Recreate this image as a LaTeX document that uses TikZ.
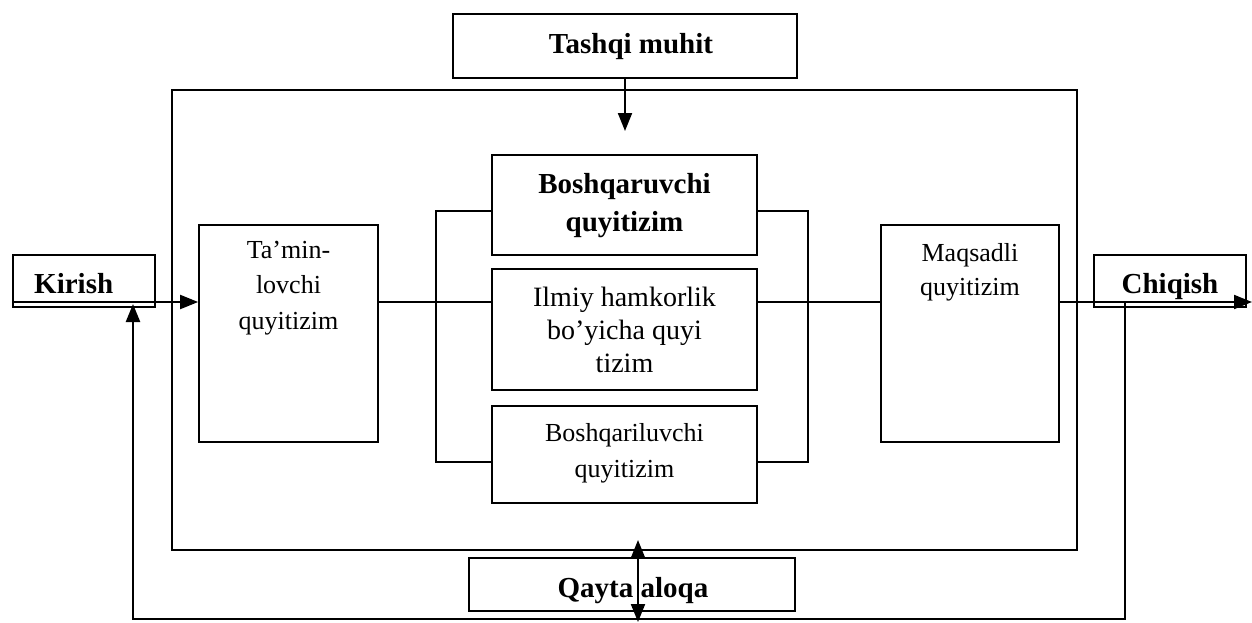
\documentclass[tikz,border=0pt]{standalone}
\usepackage{fontspec}
\setmainfont{Liberation Serif}
\usetikzlibrary{arrows.meta}
\begin{document}
\begin{tikzpicture}[x=1pt,y=-1pt,
  >={Triangle[length=18pt,width=14pt]},
  box/.style={draw, line width=1.7pt, inner sep=0pt},
  lbl/.style={inner sep=0pt, align=center},
  bold/.style={font=\fontsize{29}{38}\selectfont\bfseries},
  link/.style={line width=1.7pt},
  flow/.style={line width=2pt, ->},
  loop/.style={line width=2.4pt},
]
\useasboundingbox (0,0) rectangle (1252,622);

% boxes
\node[box, minimum width=344, minimum height=64] (tashqi) at (625,46) {};
\node[box, minimum width=905, minimum height=460] (outer) at (624.5,320) {};
\node[box, minimum width=142, minimum height=52] (kirish) at (84,281) {};
\node[box, minimum width=152, minimum height=52] (chiqish) at (1170,281) {};
\node[box, minimum width=179, minimum height=217] (tam) at (288.5,333.5) {};
\node[box, minimum width=178, minimum height=217] (maq) at (970,333.5) {};
\node[box, minimum width=265, minimum height=100] (bqr) at (624.5,205) {};
\node[box, minimum width=265, minimum height=121] (ilm) at (624.5,329.5) {};
\node[box, minimum width=265, minimum height=97] (bql) at (624.5,454.5) {};
\node[box, minimum width=326, minimum height=53] (qayta) at (632,584.5) {};

% texts
\node[lbl, bold, anchor=base] (tashqiT) at (631,53) {Tashqi muhit};
\node[lbl, bold, anchor=base west] (kirishT) at (34,293) {Kirish};
\node[lbl, bold, anchor=base] (chiqishT) at (1170,293) {Chiqish};
\node[lbl, bold, anchor=base] (qaytaT) at (633,597) {Qayta aloqa};
\node[lbl, bold, anchor=north] (bqrT) at (624.5,173) {Boshqaruvchi\\quyitizim};
\node[lbl, font=\fontsize{28}{33}\selectfont, anchor=north] (ilmT) at (624.5,287)
  {Ilmiy hamkorlik\\bo’yicha quyi\\tizim};
\node[lbl, font=\fontsize{26}{36}\selectfont, anchor=north] (bqlT) at (624.5,423)
  {Boshqariluvchi\\quyitizim};
\node[lbl, font=\fontsize{26}{35.5}\selectfont, anchor=north] (tamT) at (288.5,241)
  {Ta’min-\\lovchi\\quyitizim};
\node[lbl, font=\fontsize{26}{34}\selectfont, anchor=north] (maqT) at (970,243)
  {Maqsadli\\quyitizim};

% reference points
\coordinate (midL) at (0,302);
\coordinate (inL) at (13,302);
\coordinate (outR) at (1252,302);
\coordinate (tin) at (625,131);
\coordinate (brT) at (0,211);
\coordinate (brB) at (0,462);
\coordinate (fbR) at (1125,302);
\coordinate (fbL) at (133,304);
\coordinate (fbB) at (0,619);
\coordinate (qa1) at (638,540);
\coordinate (qa2) at (638,622);

% external environment into the system
\draw[flow] (tashqi) -- (tin);

% main flow line
\draw[flow] (inL) -- (inL -| tam.west);
\draw[link] (tam.east |- midL) -- (ilm.west |- midL);
\draw[link] (ilm.east |- midL) -- (maq.west |- midL);
\draw[flow] (maq.east |- midL) -- (outR);

% brackets joining the three middle subsystems
\draw[link] (bqr.west |- brT) -- ++(-55,0) |- (bql.west |- brB);
\draw[link] (bqr.east |- brT) -- ++(50,0) |- (bql.east |- brB);

% feedback loop
\draw[loop, ->] (fbR) -- (fbR |- fbB) -- (fbL |- fbB) -- (fbL);
\draw[line width=2pt, <->] (qa1) -- (qa2);
\end{tikzpicture}
\end{document}
